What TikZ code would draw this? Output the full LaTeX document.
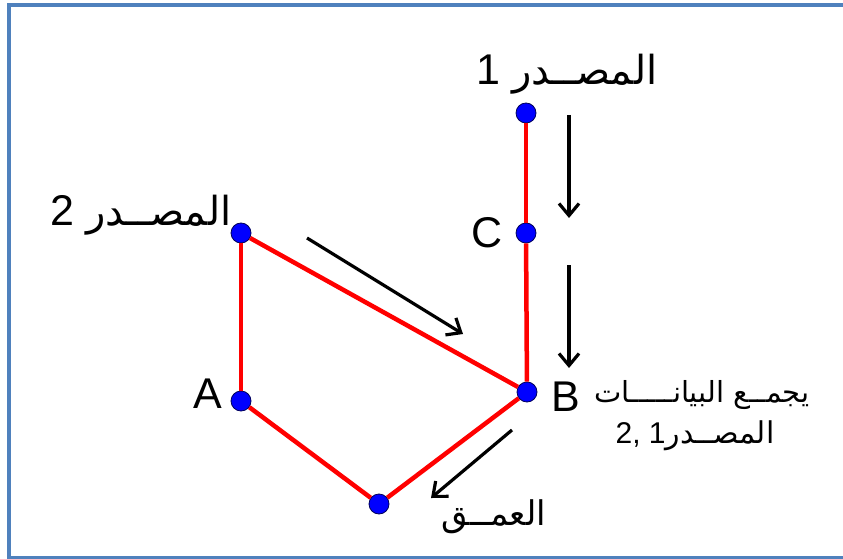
\documentclass[tikz,border=0pt]{standalone}
\usepackage{fontspec}
\setmainfont{Liberation Sans}
\newfontfamily\arabicfont[Script=Arabic]{DejaVu Sans}
\TeXXeTstate=1
\usetikzlibrary{arrows.meta, positioning}
\definecolor{frameblue}{HTML}{4F81BD}
\definecolor{dotrim}{HTML}{00005A}
\newcommand{\artxt}[1]{{\arabicfont\beginR #1\endR}}

\begin{document}
\begin{tikzpicture}[
  x=1pt, y=-1pt,
  font=\fontsize{43}{50}\selectfont,
  dot/.style={
    circle,
    fill=blue,
    draw=dotrim,
    line width=0.8pt,
    minimum size=20pt,
    inner sep=0pt,
  },
  wire/.style={draw=red, line width=4.5pt},
  flow/.style={draw=black, line width=3.2pt, -{Straight Barb[length=12pt, width=20pt]}},
  lbl/.style={inner sep=0pt, text=black},
  arlbl/.style={lbl, font=\fontsize{30}{36}\selectfont},
]
\useasboundingbox (0,0) rectangle (843,559);

% ---- frame, open on the right -----------------------------------------------
\draw[frameblue, line width=4pt] (843,5) -- (9,5) -- (9,557.5) -- (843,557.5);

% ---- the points of the network --------------------------------------------
\node[dot] (s1) at (526,113) {};
\node[dot] (c)  at (526,233) {};
\node[dot] (s2) at (241,233) {};
\node[dot] (b)  at (527,392) {};
\node[dot] (a)  at (241,401) {};
\node[dot] (d)  at (379,504) {};

\draw[wire] (s1) -- (c);
\draw[wire] (c)  -- (b);
\draw[wire] (s2) -- (b);
\draw[wire] (s2) -- (a);
\draw[wire] (a)  -- (d);
\draw[wire] (d)  -- (b);

% ---- names of the points ------------------------------------------------------
\node[lbl] (clab) at (487,233) {C};
\node[lbl] (alab) at (208,394) {A};
\node[lbl] (blab) at (566,397) {B};

\node[lbl, anchor=base] (s1lab) at (567,85)
  {1 {\fontsize{40}{46}\selectfont\artxt{المصــدر}}};
\node[lbl, anchor=base] (s2lab) at (141,225)
  {2 {\fontsize{40}{46}\selectfont\artxt{المصــدر}}};
\node[arlbl, anchor=base, font=\fontsize{29}{34}\selectfont] (sink1) at (702,402)
  {\artxt{يجمــع البيانـــــات}};
\node[arlbl, anchor=base] (sink2) at (695,443)
  {2, 1\artxt{المصــدر}};
\node[arlbl, anchor=base, font=\fontsize{34}{40}\selectfont] (dlab) at (494,525)
  {\artxt{العمــق}};

% ---- direction of the flow ----------------------------------------------------
\coordinate (f1s) at (569,115);
\coordinate (f1e) at (569,218);
\coordinate (f2s) at (569,265);
\coordinate (f2e) at (569,368);
\coordinate (f3s) at (307,238);
\coordinate (f3e) at (463,334);
\coordinate (f4s) at (512,430);
\coordinate (f4e) at (431,498);

\draw[flow] (f1s) -- (f1e);
\draw[flow] (f2s) -- (f2e);
\draw[flow] (f3s) -- (f3e);
\draw[flow] (f4s) -- (f4e);

\end{tikzpicture}
\end{document}
